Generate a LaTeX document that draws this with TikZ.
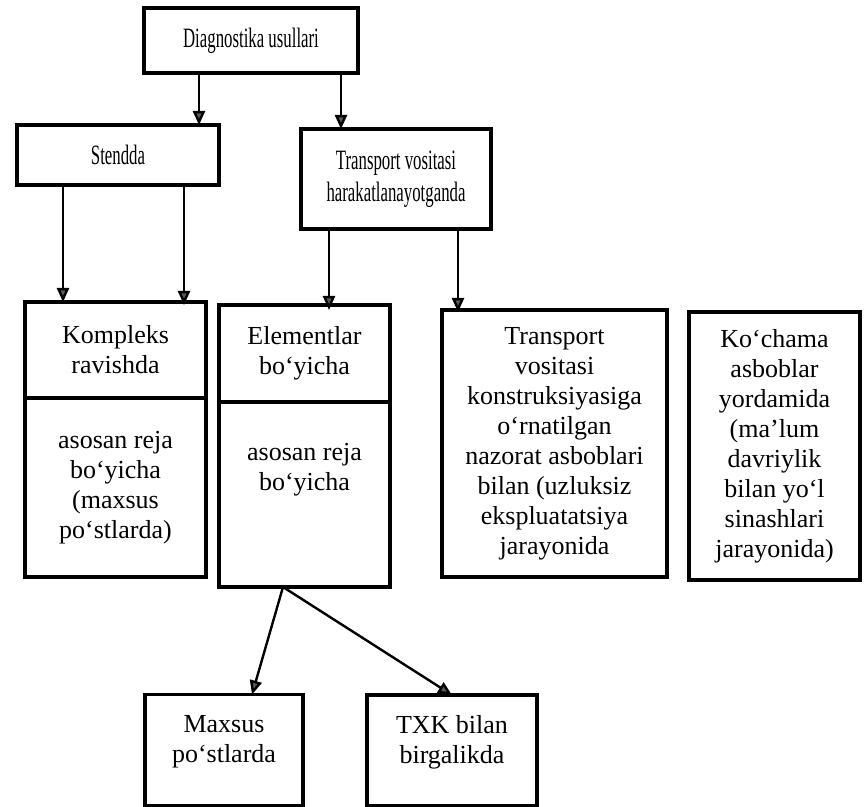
\documentclass[tikz,border=0pt]{standalone}
\usepackage{fontspec}
\setmainfont{Liberation Serif}
\newfontfamily\narrowserif[FakeStretch=0.6]{Liberation Serif}
\usetikzlibrary{positioning, arrows.meta}

\begin{document}
\begin{tikzpicture}[ x = 0.5pt, y = -0.5pt
                   , font = \fontsize{13}{15}\selectfont
                   , >={Triangle[width=6pt, length=7pt, fill=black!65]}
                   , box/.style = { rectangle
                                  , draw = black
                                  , line width = 1.6pt
                                  , outer sep = 0pt
                                  , inner sep = 3pt
                                  , align = center }
                   , head/.style = { font = \narrowserif\fontsize{14}{16}\selectfont }
                   , arr/.style = { ->, line width = 1.2pt }
                   ]

  \useasboundingbox (0,0) rectangle (866,807);

  \node (diag) [box, head, minimum width = 107pt, minimum height = 32.5pt]
    at (251,40.5) {Diagnostika usullari};
  \node (stendda) [box, head, minimum width = 101pt, minimum height = 30pt]
    at (118,155) {Stendda};
  \node (transport) [box, head, minimum width = 95pt, minimum height = 50pt]
    at (396,179) {Transport vositasi\\ harakatlanayotganda};

  \node (kompleks) [box, minimum width = 90.5pt, minimum height = 48pt]
    at (115.5,350) {Kompleks\\ ravishda};
  \node (kompleksreja) [box, below = 0pt of kompleks, minimum width = 90.5pt, minimum height = 89.5pt]
    {asosan reja\\ bo‘yicha\\ (maxsus\\ po‘stlarda)};

  \node (element) [box, minimum width = 85.5pt, minimum height = 48.5pt]
    at (304.5,353.5) {Elementlar\\ bo‘yicha};
  \node (elementreja) [box, below = 0pt of element, minimum width = 85.5pt, minimum height = 92.5pt, text depth = 28pt]
    {asosan reja\\ bo‘yicha};

  \node (tvosita) [box, minimum width = 112.5pt, minimum height = 133.5pt]
    at (554.5,443.5) {Transport\\ vositasi\\ konstruksiyasiga\\ o‘rnatilgan\\ nazorat asboblari\\ bilan (uzluksiz\\ ekspluatatsiya\\ jarayonida};
  \node (kochama) [box, minimum width = 85.5pt, minimum height = 134pt]
    at (774.5,446) {Ko‘chama\\ asboblar\\ yordamida\\ (ma’lum\\ davriylik\\ bilan yo‘l\\ sinashlari\\ jarayonida)};

  \node (maxsus) [box, minimum width = 79pt, minimum height = 55.5pt, text depth = 11pt]
    at (224,750) {Maxsus\\ po‘stlarda};
  \node (txk) [box, minimum width = 85pt, minimum height = 55.5pt, text depth = 11pt]
    at (452,750.5) {TXK bilan\\ birgalikda};

  \draw[arr] ([xshift = 27.5pt]diag.south west) coordinate (d1) -- (d1 |- stendda.north);
  \draw[arr] ([xshift = 98.5pt]diag.south west) coordinate (d2) -- (d2 |- transport.north);

  \draw[arr] ([xshift = 23pt]stendda.south west) coordinate (s1) -- (s1 |- kompleks.north);
  \draw[arr] ([xshift = 83.5pt]stendda.south west) coordinate (s2) -- (s2 |- element.north);

  \draw[arr] ([xshift = 14pt]transport.south west) coordinate (t1) -- (t1 |- tvosita.north);
  \draw[arr] ([xshift = 78.5pt]transport.south west) coordinate (t2) -- (t2 |- kochama.north);

  \draw[arr] ([xshift = 32pt]elementreja.south west) -- ([xshift = 53.5pt]maxsus.north west);
  \draw[arr] ([xshift = 32pt]elementreja.south west) -- (txk.north);

\end{tikzpicture}
\end{document}
